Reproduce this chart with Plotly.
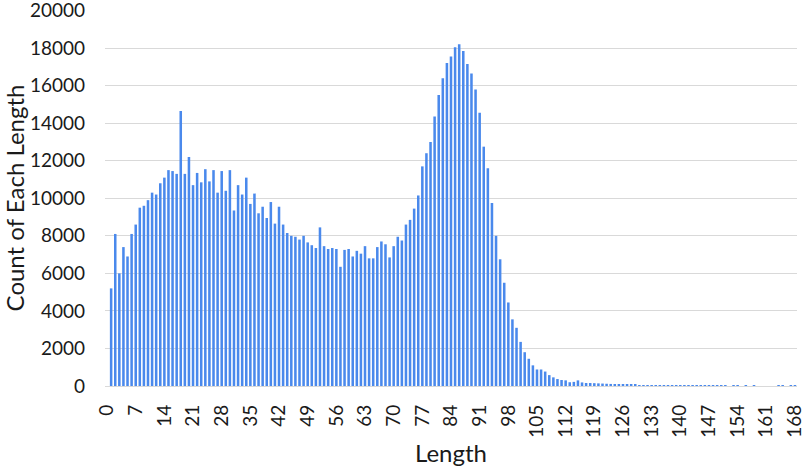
import plotly.graph_objects as go

lengths = list(range(0, 169))
counts = [
    0, 5200, 8100, 6000, 7400, 6900, 8100, 8600, 9500, 9600,
    9900, 10300, 10200, 10800, 11100, 11500, 11450, 11300, 14650, 11300,
    12200, 10700, 11350, 10850, 11550, 10900, 11500, 10300, 11450, 10400,
    11500, 9350, 10700, 10200, 11100, 9700, 10250, 9200, 9550, 8950,
    9800, 8650, 9550, 8600, 8150, 8000, 7950, 7800, 8000, 7650,
    7500, 7350, 8450, 7450, 7300, 7350, 7300, 6350, 7250, 7300,
    6900, 7200, 7050, 7450, 6800, 6800, 7400, 7700, 7550, 6850,
    7450, 7950, 7750, 8600, 8850, 9450, 10150, 11700, 12400, 13000,
    14350, 15500, 16400, 17200, 17550, 18050, 18200, 17850, 17150, 16650,
    15800, 14550, 12750, 11600, 9750, 8000, 6750, 5500, 4450, 3550,
    3100, 2350, 1800, 1450, 1100, 880, 880, 770, 580, 460,
    370, 320, 300, 200, 220, 300, 190, 160, 160, 150,
    140, 130, 120, 110, 90, 90, 85, 100, 60, 55,
    45, 40, 40, 35, 35, 30, 30, 30, 25, 25,
    25, 25, 20, 20, 20, 20, 20, 20, 20, 15,
    15, 15, 0, 15, 15, 0, 15, 0, 15, 0,
    0, 0, 0, 0, 15, 15, 0, 15, 15,
]
x_tick_vals = list(range(0, 169, 7))
x_tick_text = [str(v) for v in x_tick_vals]
y_tick_vals = list(range(0, 20001, 2000))
y_tick_text = [str(v) for v in y_tick_vals]

fig = go.Figure(go.Bar(x=lengths, y=counts, marker_color="#4A89EC",
                       marker_line_width=0))

font_family = "Lato, 'Open Sans', sans-serif"
text_color = "#1a1a1a"
fig.update_layout(
    width=804, height=467,
    margin=dict(l=105, r=7, t=10, b=81),
    paper_bgcolor="white", plot_bgcolor="white",
    bargap=0.38,
    showlegend=False,
    font=dict(family=font_family, color=text_color, size=19),
)
fig.update_xaxes(
    range=[-0.5, 168.5],
    tickmode="array", tickvals=x_tick_vals, ticktext=x_tick_text,
    tickangle=-90, showgrid=False, showline=False, ticks="",
    ticklabeloverflow="allow",
    ticklabelstandoff=14,
    tickfont=dict(size=19, family=font_family, color=text_color),
    title=dict(text="Length", font=dict(size=24, family=font_family, color=text_color), standoff=9),
    automargin=False,
)
fig.update_yaxes(
    range=[0, 20030],
    tickmode="array", tickvals=y_tick_vals, ticktext=y_tick_text,
    showgrid=True, gridcolor="#D9D9D9", gridwidth=1,
    zeroline=True, zerolinecolor="#D9D9D9", zerolinewidth=1,
    showline=False, ticks="",
    ticklabeloverflow="allow",
    ticklabelstandoff=19,
    tickfont=dict(size=19, family=font_family, color=text_color),
    title=dict(text="Count of Each Length", font=dict(size=24, family=font_family, color=text_color), standoff=8),
    automargin=False,
)

fig.write_html("out.html", config={"displayModeBar": False},
               post_script="document.body.style.margin='0';document.body.style.padding='0';")
